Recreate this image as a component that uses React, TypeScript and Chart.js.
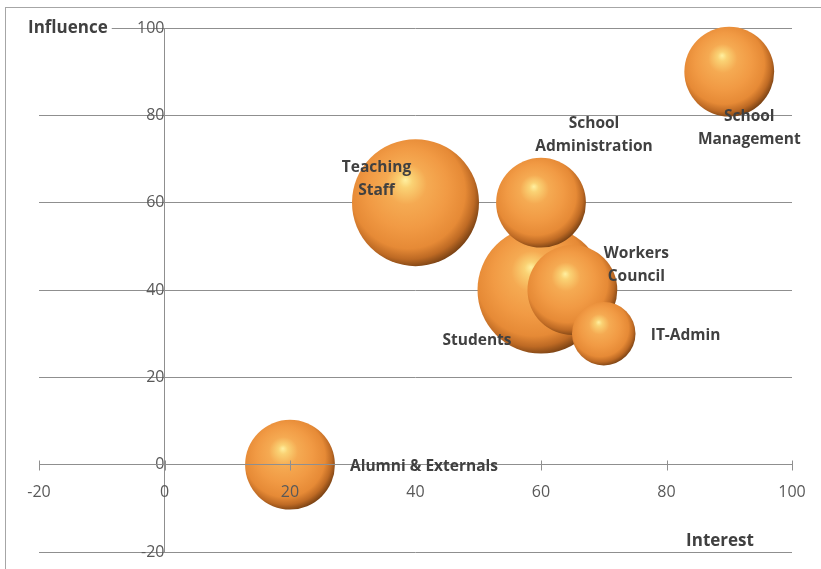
import React, { useEffect, useRef } from "react";
import { Chart, registerables } from "chart.js";

Chart.register(...registerables);

// ---- data ----
const stakeholders = [
  "Alumni & Externals",
  "Teaching\nStaff",
  "Students",
  "School\nAdministration",
  "Workers\nCouncil",
  "IT-Admin",
  "School\nManagement",
];
const interest = [20, 40, 60, 60, 65, 70, 90];
const influence = [0, 60, 40, 60, 40, 30, 90];
const bubbleSize = [2, 4, 4, 2, 2, 1, 2];
const axisMin = -20;
const axisMax = 100;
const axisStep = 20;
const xTitle = "Interest";
const yTitle = "Influence";

// ---- style ----
const FONT = "'Open Sans', 'DejaVu Sans', sans-serif";
const TEXT = "#404040";
const TICK = "#595959";
const LINE = "#8f8f8f";
const MAX_R = 63.5;
const labelLayout = [
  { dx: 60, dy: 2, align: "left" },
  { dx: -39, dy: -35, align: "center" },
  { dx: -64, dy: 51, align: "center" },
  { dx: 53, dy: -79, align: "center" },
  { dx: 64, dy: -36, align: "center" },
  { dx: 47, dy: 2, align: "left" },
  { dx: 20, dy: 45, align: "center" },
];

const maxSize = Math.max(...bubbleSize);

function sphere(ctx: any) {
  if (ctx.type !== "data") return "#F0A050";
  const chart = ctx.chart;
  const raw = ctx.raw;
  const xs = chart.scales && chart.scales.x;
  const ys = chart.scales && chart.scales.y;
  if (!xs || !ys || !raw) return "#F0A050";
  const cx = xs.getPixelForValue(raw.x);
  const cy = ys.getPixelForValue(raw.y);
  const r = raw.r;
  if (![cx, cy, r].every((v) => Number.isFinite(v))) return "#F0A050";
  const g = chart.ctx.createRadialGradient(
    cx - 0.16 * r, cy - 0.36 * r, 0,
    cx - 0.1 * r, cy - 0.12 * r, r * 1.15
  );
  g.addColorStop(0, "#FFF0A0");
  g.addColorStop(0.09, "#FAD274");
  g.addColorStop(0.28, "#F5AA52");
  g.addColorStop(0.55, "#F19A44");
  g.addColorStop(0.78, "#E68A36");
  g.addColorStop(0.9, "#BE6A24");
  g.addColorStop(1, "#7A4214");
  return g;
}

// positioned axes should not take any room from the plot area
function noRoom(scale: any) {
  if (scale.isHorizontal()) scale.height = 0;
  else scale.width = 0;
  scale.paddingLeft = 0;
  scale.paddingRight = 0;
  scale.paddingTop = 0;
  scale.paddingBottom = 0;
}

const decorPlugin = {
  id: "decor",
  beforeDraw(chart: any) {
    const c = chart.ctx;
    c.save();
    c.fillStyle = "#ffffff";
    c.fillRect(0, 0, chart.width, chart.height);
    c.strokeStyle = "#a6a6a6";
    c.lineWidth = 1;
    c.strokeRect(5.5, 7.5, chart.width + 20, chart.height + 20);
    c.restore();
  },
  afterDraw(chart: any) {
    const c = chart.ctx;
    const xs = chart.scales.x;
    const ys = chart.scales.y;
    c.save();
    // cross tick marks on the horizontal axis
    const y0 = Math.round(ys.getPixelForValue(0)) + 0.5;
    c.strokeStyle = LINE;
    c.lineWidth = 1;
    xs.ticks.forEach((t: any) => {
      const px = Math.round(xs.getPixelForValue(t.value)) + 0.5;
      c.beginPath();
      c.moveTo(px, y0 - 5);
      c.lineTo(px, y0 + 5);
      c.stroke();
    });
    // data labels
    const meta = chart.getDatasetMeta(0);
    c.fillStyle = TEXT;
    c.font = `bold 15.5px ${FONT}`;
    c.textBaseline = "middle";
    meta.data.forEach((el: any, i: number) => {
      const L = labelLayout[i];
      c.textAlign = L.align;
      stakeholders[i].split("\n").forEach((line, j) => {
        c.fillText(line, el.x + L.dx, el.y + L.dy + j * 23);
      });
    });
    // axis titles
    c.font = `bold 17px ${FONT}`;
    c.textAlign = "left";
    const w = c.measureText(yTitle).width;
    c.fillStyle = "#ffffff";
    c.fillRect(26, 17, w + 6, 22);
    c.fillStyle = TEXT;
    c.fillText(yTitle, 28, 28);
    c.textAlign = "center";
    c.fillText(xTitle, 720, 541);
    c.restore();
  },
};

export default function App() {
  const ref = useRef<HTMLCanvasElement | null>(null);
  useEffect(() => {
    if (!ref.current) return;
    const data = interest.map((x, i) => ({
      x,
      y: influence[i],
      r: Math.sqrt(bubbleSize[i] / maxSize) * MAX_R,
    }));
    const chart = new Chart(ref.current, {
      type: "bubble",
      data: {
        datasets: [
          {
            label: "Stakeholders",
            data,
            backgroundColor: sphere as any,
            borderWidth: 0,
            hoverBorderWidth: 0,
            clip: false as any,
          },
        ],
      },
      options: {
        responsive: false,
        animation: false,
        events: [],
        layout: { autoPadding: false, padding: { left: 39, right: 29, top: 28, bottom: 17 } },
        plugins: { legend: { display: false }, tooltip: { enabled: false } },
        scales: {
          x: {
            type: "linear",
            min: axisMin,
            max: axisMax,
            position: { y: 0 } as any,
            afterFit: noRoom,
            ticks: {
              stepSize: axisStep,
              color: TICK,
              font: { family: FONT, size: 16 },
              padding: 18,
              z: 1,
            } as any,
            grid: { drawOnChartArea: false, drawTicks: false, color: LINE },
            border: { display: true, color: LINE, width: 1, z: 1 } as any,
          },
          y: {
            type: "linear",
            min: axisMin,
            max: axisMax,
            position: { x: 0 } as any,
            afterFit: noRoom,
            ticks: {
              stepSize: axisStep,
              color: TICK,
              font: { family: FONT, size: 16 },
              padding: 21,
            },
            grid: { color: LINE, lineWidth: 1, drawTicks: false },
            border: { display: true, color: LINE, width: 1 },
          },
        },
      },
      plugins: [decorPlugin],
    });
    return () => chart.destroy();
  }, []);
  return (
    <div style={{ position: "absolute", left: 0, top: 0, width: 821, height: 569 }}>
      <canvas ref={ref} width={821} height={569} style={{ width: 821, height: 569 }} />
    </div>
  );
}
